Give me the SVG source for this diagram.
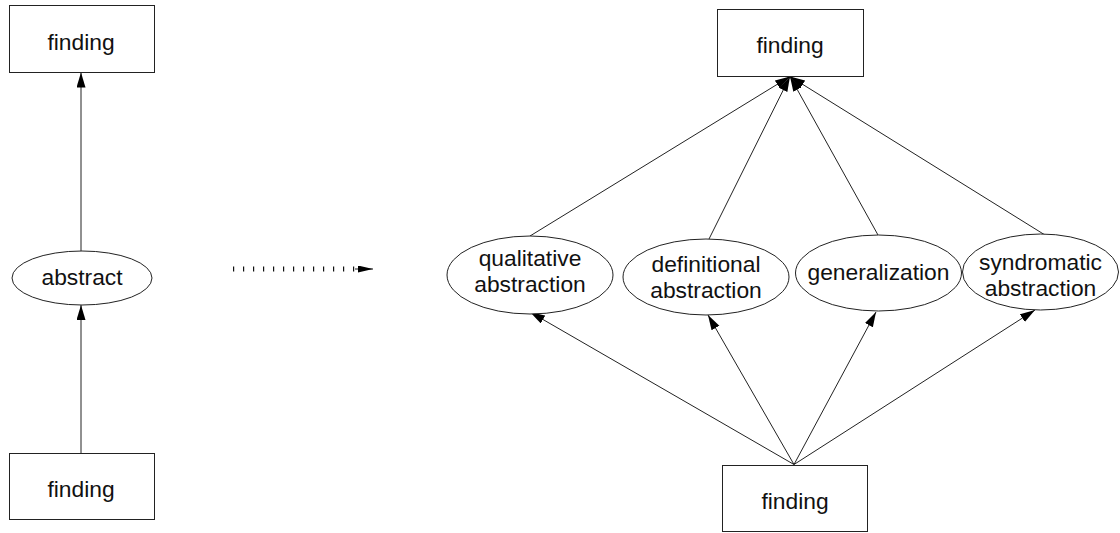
<svg xmlns="http://www.w3.org/2000/svg" width="1120" height="533" viewBox="0 0 1120 533">
  <style>
    .box { fill: #fff; stroke: #222; stroke-width: 1; }
    .oval { fill: #fff; stroke: #222; stroke-width: 1; }
    .lbl { font-family: "Liberation Sans", Arial, sans-serif; font-size: 22.8px; fill: #111; text-anchor: middle; }
    .edge { fill: none; stroke: #222; stroke-width: 1; }
    .dots { fill: none; stroke: #111; stroke-width: 5; stroke-dasharray: 1.2 8.8; }
  </style>
  <defs>
    <marker id="arrow" markerUnits="userSpaceOnUse" markerWidth="16" markerHeight="10" refX="15" refY="4.5" orient="auto">
      <path d="M0,0 L15,4.5 L0,9 z" fill="#000"/>
    </marker>
    <marker id="arrowSmall" markerUnits="userSpaceOnUse" markerWidth="16" markerHeight="8" refX="15" refY="3.5" orient="auto">
      <path d="M0,0 L15,3.5 L0,7 z" fill="#000"/>
    </marker>
  </defs>

  <!-- connectors -->
  <g id="connectors">
    <!-- left chain -->
    <line class="edge" x1="81" y1="251" x2="81" y2="72.5" marker-end="url(#arrow)"/>
    <line class="edge" x1="81" y1="453" x2="81" y2="305" marker-end="url(#arrow)"/>
    <!-- transition -->
    <line class="dots" x1="233" y1="269" x2="360" y2="269"/>
    <line class="edge" x1="355" y1="269" x2="373" y2="269" stroke="none" marker-end="url(#arrowSmall)"/>
    <!-- abstraction types up to finding -->
    <line class="edge" x1="530" y1="236" x2="790" y2="76.5" marker-end="url(#arrow)"/>
    <line class="edge" x1="709" y1="239" x2="790" y2="76.5" marker-end="url(#arrow)"/>
    <line class="edge" x1="878" y1="235" x2="790" y2="76.5" marker-end="url(#arrow)"/>
    <line class="edge" x1="1045" y1="235" x2="790" y2="76.5" marker-end="url(#arrow)"/>
    <!-- finding up to abstraction types -->
    <line class="edge" x1="794" y1="464.5" x2="530" y2="312" marker-end="url(#arrow)"/>
    <line class="edge" x1="794" y1="464.5" x2="708" y2="315" marker-end="url(#arrow)"/>
    <line class="edge" x1="794" y1="464.5" x2="876" y2="312" marker-end="url(#arrow)"/>
    <line class="edge" x1="794" y1="464.5" x2="1035" y2="310" marker-end="url(#arrow)"/>
  </g>

  <!-- left side -->
  <g id="finding-top-left">
    <rect class="box" x="9.5" y="5.5" width="145" height="67"/>
    <text class="lbl" x="81" y="50">finding</text>
  </g>
  <g id="abstract">
    <ellipse class="oval" cx="82" cy="278" rx="70" ry="27"/>
    <text class="lbl" x="82" y="285">abstract</text>
  </g>
  <g id="finding-bottom-left">
    <rect class="box" x="9.5" y="453.5" width="145" height="66"/>
    <text class="lbl" x="81" y="497">finding</text>
  </g>

  <!-- right side -->
  <g id="finding-top-right">
    <rect class="box" x="717.5" y="9.5" width="146" height="67"/>
    <text class="lbl" x="790" y="53">finding</text>
  </g>
  <g id="qualitative-abstraction">
    <ellipse class="oval" cx="530" cy="275" rx="83" ry="39"/>
    <text class="lbl" x="530" y="266">qualitative</text>
    <text class="lbl" x="530" y="292">abstraction</text>
  </g>
  <g id="definitional-abstraction">
    <ellipse class="oval" cx="706" cy="277" rx="83" ry="38"/>
    <text class="lbl" x="706" y="272">definitional</text>
    <text class="lbl" x="706" y="298">abstraction</text>
  </g>
  <g id="generalization">
    <ellipse class="oval" cx="878.5" cy="273" rx="83" ry="38"/>
    <text class="lbl" x="878.5" y="280">generalization</text>
  </g>
  <g id="syndromatic-abstraction">
    <ellipse class="oval" cx="1040.5" cy="272" rx="78" ry="38"/>
    <text class="lbl" x="1040.5" y="270">syndromatic</text>
    <text class="lbl" x="1040.5" y="296">abstraction</text>
  </g>
  <g id="finding-bottom-right">
    <rect class="box" x="722.5" y="465.5" width="145" height="66"/>
    <text class="lbl" x="795" y="509">finding</text>
  </g>
</svg>
